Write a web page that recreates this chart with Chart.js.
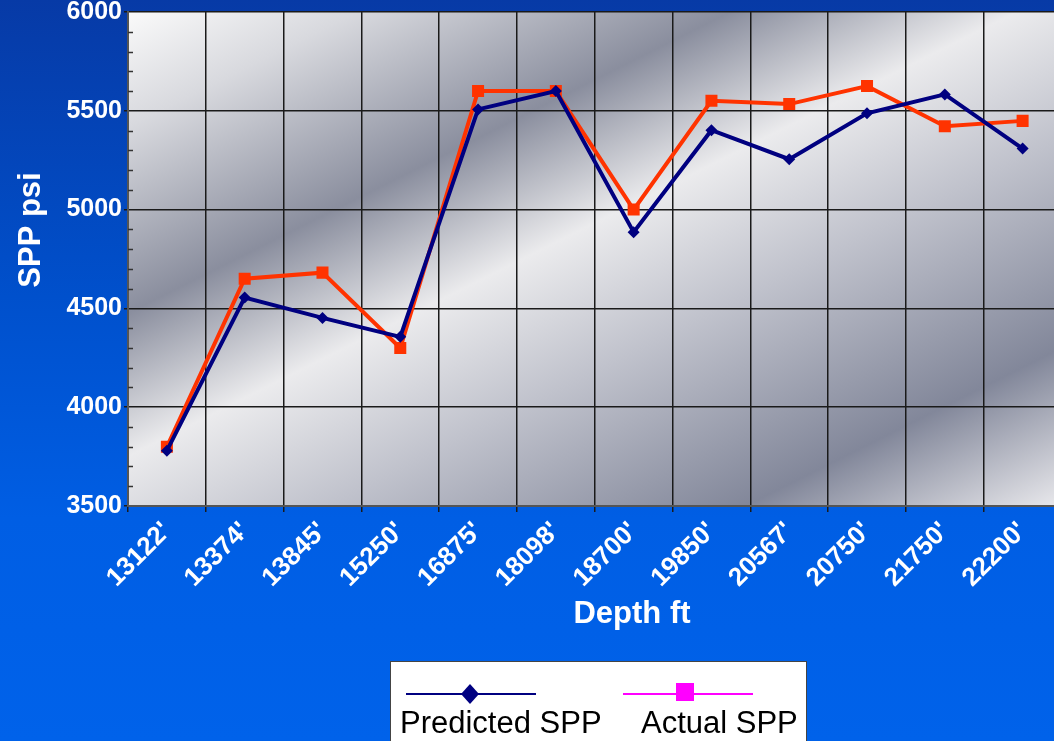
<!DOCTYPE html>
<html>
<head>
<meta charset="utf-8">
<script src="https://cdn.jsdelivr.net/npm/chart.js@4/dist/chart.umd.min.js"></script>
<style>
  html, body { margin: 0; padding: 0; overflow: hidden; }
  body {
    width: 1054px; height: 741px;
    background: linear-gradient(to bottom, #073aa6 0%, #0050cc 40%, #005ee4 70%, #0062ea 100%);
  }
  canvas { display: block; }
</style>
</head>
<body>
<canvas id="sppChart" width="1070" height="741"></canvas>
<script>

// depth stations along the well
const depths = ["13122'", "13374'", "13845'", "15250'", "16875'", "18098'",
                "18700'", "19850'", "20567'", "20750'", "21750'", "22200'"];

// stand pipe pressure, psi
const predictedSpp = [3780, 4555, 4452, 4356, 5507, 5600, 4886, 5402, 5255, 5487, 5583, 5309];
const actualSpp    = [3800, 4650, 4681, 4300, 5600, 5600, 5000, 5551, 5534, 5625, 5422, 5449];

const yMin = 3500;
const yMax = 6000;
const yStep = 500;
const yMinorStep = 100;

const seriesNames = ["Predicted SPP", "Actual SPP"];
const xTitle = "Depth ft";
const yTitle = "SPP psi";

const FONT = "'Liberation Sans', Arial, sans-serif";

// silver brushed background behind the grid
const plotBackground = {
    id: "plotBackground",
    beforeDraw(chart) {
        const { ctx, chartArea: a } = chart;
        const nx = 0.447, ny = 0.894, len = 855;
        const g = ctx.createLinearGradient(a.left, a.top, a.left + nx * len, a.top + ny * len);
        g.addColorStop(0.00, "#fafafa");
        g.addColorStop(0.12, "#d8d9de");
        g.addColorStop(0.315, "#8a8e9e");
        g.addColorStop(0.465, "#ebebed");
        g.addColorStop(0.62, "#c0c2cc");
        g.addColorStop(0.84, "#82879a");
        g.addColorStop(1.00, "#e6e6ea");
        ctx.save();
        ctx.fillStyle = g;
        ctx.fillRect(a.left, a.top, a.right - a.left, a.bottom - a.top);
        ctx.restore();
    }
};

// small inner ticks every 100 psi on the value axis
const minorTicks = {
    id: "minorTicks",
    beforeDatasetsDraw(chart) {
        const { ctx, chartArea: a } = chart;
        const y = chart.scales.y;
        ctx.save();
        ctx.strokeStyle = "#333";
        ctx.lineWidth = 1.5;
        ctx.beginPath();
        for (let v = yMin; v <= yMax; v += yMinorStep) {
            if (v % yStep === 0) continue;
            const py = Math.round(y.getPixelForValue(v)) + 0.5;
            ctx.moveTo(a.left, py);
            ctx.lineTo(a.left + 5, py);
        }
        ctx.stroke();
        ctx.restore();
    }
};

// axis titles and the boxed legend at the bottom
const titlesAndLegend = {
    id: "titlesAndLegend",
    afterDraw(chart) {
        const ctx = chart.ctx;
        ctx.save();
        ctx.fillStyle = "#ffffff";
        ctx.font = "bold 31px " + FONT;
        ctx.textAlign = "center";
        ctx.textBaseline = "alphabetic";
        ctx.fillText(xTitle, 632, 623);

        ctx.save();
        ctx.translate(40, 230);
        ctx.rotate(-Math.PI / 2);
        ctx.fillText(yTitle, 0, 0);
        ctx.restore();

        // legend box
        ctx.fillStyle = "#ffffff";
        ctx.fillRect(390, 661, 416, 90);
        ctx.strokeStyle = "#444";
        ctx.lineWidth = 1;
        ctx.strokeRect(390.5, 661.5, 416, 90);

        // predicted sample
        ctx.strokeStyle = "#000080";
        ctx.lineWidth = 2;
        ctx.beginPath();
        ctx.moveTo(406, 694);
        ctx.lineTo(536, 694);
        ctx.stroke();
        ctx.fillStyle = "#000080";
        ctx.beginPath();
        ctx.moveTo(470, 684);
        ctx.lineTo(479, 694);
        ctx.lineTo(470, 704);
        ctx.lineTo(461, 694);
        ctx.closePath();
        ctx.fill();

        // actual sample
        ctx.strokeStyle = "#ff00ff";
        ctx.beginPath();
        ctx.moveTo(623, 694);
        ctx.lineTo(753, 694);
        ctx.stroke();
        ctx.fillStyle = "#ff00ff";
        ctx.fillRect(676, 683, 18, 18);

        ctx.fillStyle = "#000000";
        ctx.font = "31px " + FONT;
        ctx.textAlign = "left";
        ctx.fillText(seriesNames[0], 400, 733);
        ctx.fillText(seriesNames[1], 641, 733);
        ctx.restore();
    }
};

new Chart(document.getElementById("sppChart"), {
    type: "line",
    data: {
        labels: depths,
        datasets: [
            {
                label: seriesNames[0],
                data: predictedSpp,
                borderColor: "#000080",
                backgroundColor: "#000080",
                borderWidth: 4,
                pointStyle: "rectRot",
                pointRadius: 6,
                pointBorderWidth: 0,
                tension: 0,
                fill: false
            },
            {
                label: seriesNames[1],
                data: actualSpp,
                borderColor: "#ff3300",
                backgroundColor: "#ff3300",
                borderWidth: 4,
                pointStyle: "rect",
                pointRadius: 8.5,
                pointBorderWidth: 0,
                tension: 0,
                fill: false
            }
        ]
    },
    options: {
        responsive: false,
        animation: false,
        layout: { padding: { top: 11, left: 0, right: 0, bottom: 0 } },
        plugins: {
            legend: { display: false },
            tooltip: { enabled: false }
        },
        scales: {
            x: {
                offset: true,
                grid: {
                    offset: true,
                    color: "#1a1a1a",
                    lineWidth: 1.5,
                    tickLength: 6
                },
                border: { color: "#555", width: 2 },
                ticks: {
                    color: "#ffffff",
                    font: { family: FONT, size: 26, weight: "bold" },
                    minRotation: 45,
                    maxRotation: 45,
                    padding: 4,
                    autoSkip: false
                },
                afterFit(scale) { scale.height = 235; }
            },
            y: {
                min: yMin,
                max: yMax,
                grid: {
                    color: "#1a1a1a",
                    lineWidth: 1.5,
                    tickLength: 4
                },
                border: { color: "#555", width: 2 },
                ticks: {
                    stepSize: yStep,
                    color: "#ffffff",
                    font: { family: FONT, size: 25, weight: "bold", lineHeight: 0.8 },
                    padding: 2,
                    callback: v => String(v)
                },
                afterFit(scale) { scale.width = 128; }
            }
        }
    },
    plugins: [plotBackground, minorTicks, titlesAndLegend]
});
</script>
</body>
</html>
